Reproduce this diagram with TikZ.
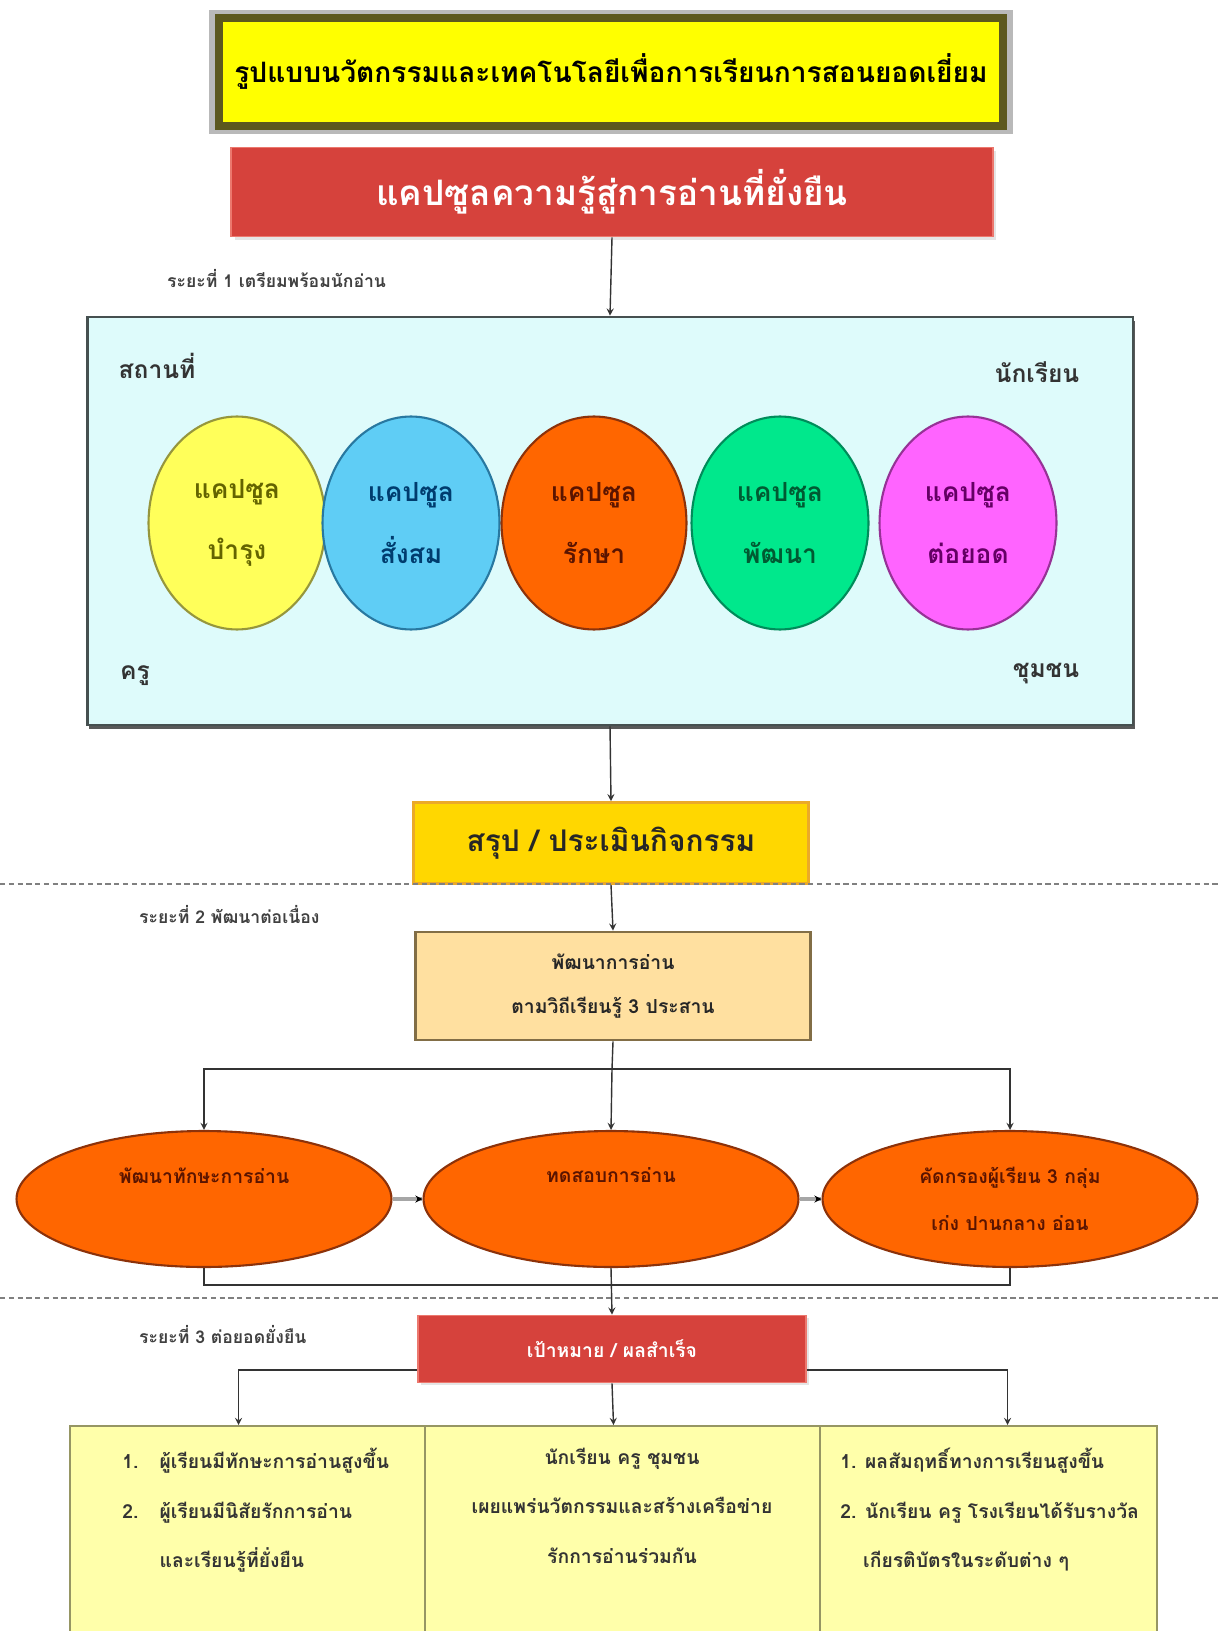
\documentclass[tikz,border=0pt]{standalone}
\usepackage{fontspec}
\setmainfont[Script=Thai]{Loma}
\usetikzlibrary{positioning,shapes.geometric,shadows}

\definecolor{headyellow}{RGB}{255,255,0}
\definecolor{headedge}{RGB}{92,88,30}
\definecolor{capred}{RGB}{214,66,60}
\definecolor{capedge}{RGB}{236,120,110}
\definecolor{framefill}{RGB}{222,251,251}
\definecolor{frameedge}{RGB}{70,80,80}
\definecolor{yel}{RGB}{255,255,90}
\definecolor{yeledge}{RGB}{150,150,60}
\definecolor{yeltext}{RGB}{100,100,0}
\definecolor{sky}{RGB}{95,205,245}
\definecolor{skyedge}{RGB}{40,120,160}
\definecolor{skytext}{RGB}{0,60,110}
\definecolor{org}{RGB}{255,102,0}
\definecolor{orgedge}{RGB}{140,50,10}
\definecolor{orgtext}{RGB}{90,20,0}
\definecolor{grn}{RGB}{0,232,140}
\definecolor{grnedge}{RGB}{0,140,90}
\definecolor{grntext}{RGB}{0,90,50}
\definecolor{pnk}{RGB}{255,100,255}
\definecolor{pnkedge}{RGB}{150,50,150}
\definecolor{pnktext}{RGB}{100,0,100}
\definecolor{gold}{RGB}{255,215,0}
\definecolor{goldedge}{RGB}{235,170,40}
\definecolor{peach}{RGB}{255,224,160}
\definecolor{peachedge}{RGB}{130,110,70}
\definecolor{paleyel}{RGB}{255,255,170}
\definecolor{paleedge}{RGB}{150,150,100}

\begin{document}
\begin{tikzpicture}[x=0.02cm,y=-0.02cm,
    capsule/.style={ellipse,draw,line width=1.2pt,minimum width=3.54cm,minimum height=4.26cm,inner sep=0pt,align=center,font=\fontsize{15}{35}\selectfont\bfseries},
    stagelabel/.style={anchor=west,font=\fontsize{10}{12}\selectfont\bfseries,text=black!75},
    corner/.style={font=\fontsize{14}{16}\selectfont\bfseries,text=black!80},
    link/.style={draw=black!80,line width=0.8pt},
    bigoval/.style={ellipse,draw=orgedge,fill=org,line width=1.2pt,minimum width=7.5cm,minimum height=2.72cm,align=center,text=orgtext,font=\fontsize{11}{27}\selectfont\bfseries},
    outbox/.style={draw=paleedge,fill=paleyel,line width=1.2pt,anchor=north west,minimum height=5cm,inner sep=0pt},
    outtext/.style={inner sep=0pt,font=\fontsize{11}{28}\selectfont\bfseries,text=black!80}]
  \clip (0,0) rectangle (1221,1631);
  \fill[white] (0,0) rectangle (1221,1631);

  % title
  \fill[gray!55] (209,10) rectangle (1013,134);
  \node[draw=headedge,fill=headyellow,line width=4.5pt,minimum width=15.7cm,minimum height=2.15cm,font=\fontsize{16}{18}\selectfont\bfseries] (head) at (611,72) {รูปแบบนวัตกรรมและเทคโนโลยีเพื่อการเรียนการสอนยอดเยี่ยม};
  \node[draw=capedge,fill=capred,line width=1pt,minimum width=15.24cm,minimum height=1.78cm,text=white,font=\fontsize{20}{22}\selectfont\bfseries,drop shadow={shadow xshift=2pt,shadow yshift=-2pt,fill=gray!40}] (cap) at (612,192) {แคปซูลความรู้สู่การอ่านที่ยั่งยืน};

  % stage 1
  \node[stagelabel] (s1) at (161,279) {ระยะที่ 1 เตรียมพร้อมนักอ่าน};
  \node[draw=frameedge,fill=framefill,line width=1.6pt,minimum width=20.92cm,minimum height=8.16cm,drop shadow={shadow xshift=1pt,shadow yshift=-2.5pt,fill=black!65,opacity=1}] (frame) at (610,521) {};
  \node[corner] (place) at (157,366) {สถานที่};
  \node[corner] (pupil) at (1037,372) {นักเรียน};
  \node[corner] (teach) at (135,676) {ครู};
  \node[corner] (comm) at (1046,674) {ชุมชน};

  \node[capsule,fill=yel,draw=yeledge,text=yeltext] (c1) at (237,523) {แคปซูล\\บำรุง};
  \node[capsule,fill=sky,draw=skyedge,text=skytext] (c2) at (411,523) {แคปซูล\\สั่งสม};
  \node[capsule,fill=org,draw=orgedge,text=orgtext,minimum width=3.7cm] (c3) at (594,523) {แคปซูล\\รักษา};
  \node[capsule,fill=grn,draw=grnedge,text=grntext] (c4) at (780,523) {แคปซูล\\พัฒนา};
  \node[capsule,fill=pnk,draw=pnkedge,text=pnktext] (c5) at (968,523) {แคปซูล\\ต่อยอด};

  \draw[link,-stealth] (cap.south) -- (frame.north);

  \node[draw=goldedge,fill=gold,line width=1.5pt,minimum width=7.9cm,minimum height=1.62cm,font=\fontsize{17}{19}\selectfont\bfseries,text=black!85] (sum) at (611,843) {สรุป / ประเมินกิจกรรม};
  \draw[link,-stealth] (frame.south) -- (sum.north);

  % stage 2
  \draw[gray,densely dashed,line width=0.8pt] (0,884) -- (1221,884);
  \node[stagelabel] (s2) at (133,915) {ระยะที่ 2 พัฒนาต่อเนื่อง};
  \node[draw=peachedge,fill=peach,line width=1.6pt,minimum width=7.9cm,minimum height=2.16cm,align=center,font=\fontsize{11}{25}\selectfont\bfseries,text=black!85] (dev) at (613,986) {พัฒนาการอ่าน\\ตามวิถีเรียนรู้ 3 ประสาน};
  \draw[link,-stealth] (sum.south) -- (dev.north);

  \node[bigoval] (o1) at (204,1199) {พัฒนาทักษะการอ่าน\\\mbox{}};
  \node[bigoval] (o2) at (611,1199) {ทดสอบการอ่าน\\\mbox{}};
  \node[bigoval] (o3) at (1010,1199) {คัดกรองผู้เรียน 3 กลุ่ม\\เก่ง ปานกลาง อ่อน};

  \coordinate (split) at (612,1069);
  \draw[link] (dev.south) -- (split);
  \draw[link,-stealth] (split) -| (o1.north);
  \draw[link,-stealth] (split) -- (o2.north);
  \draw[link,-stealth] (split) -| (o3.north);
  \draw[draw=gray!70,line width=2pt] (o1.east) -- (o2.west);
  \draw[draw=gray!70,line width=2pt] (o2.east) -- (o3.west);
  \draw[-stealth,line width=0.8pt] ([xshift=-3pt]o2.west) -- (o2.west);
  \draw[-stealth,line width=0.8pt] ([xshift=-3pt]o3.west) -- (o3.west);

  % stage 3
  \node[draw=capedge,fill=capred,line width=1pt,minimum width=7.76cm,minimum height=1.34cm,text=white,font=\fontsize{11}{13}\selectfont\bfseries,drop shadow={shadow xshift=1.5pt,shadow yshift=-1.5pt,fill=gray!40}] (goal) at (612,1349) {เป้าหมาย / ผลสำเร็จ};
  \coordinate (join) at (612,1285);
  \draw[link] (o1.south) |- (join);
  \draw[link] (o3.south) |- (join);
  \draw[link,-stealth] (o2.south) -- (goal.north);
  \draw[gray,densely dashed,line width=0.8pt] (0,1298) -- (1221,1298);
  \node[stagelabel] (s3) at (133,1335) {ระยะที่ 3 ต่อยอดยั่งยืน};

  \node[outbox,minimum width=7.1cm] (b1) at (69,1425) {};
  \node[outbox,minimum width=7.9cm] (b2) at (424,1425) {};
  \node[outbox,minimum width=6.74cm] (b3) at (819,1425) {};
  \draw[link,-stealth] ([yshift=-12pt]goal.west) -| ([xshift=-0.18cm]b1.north);
  \draw[link,-stealth] (goal.south) -- ([xshift=-0.18cm]b2.north);
  \draw[link,-stealth] ([yshift=-12pt]goal.east) -| ([xshift=0.38cm]b3.north);

  \node[outtext,anchor=north west,align=left] (t1) at (122,1448) {1.\hspace{12pt}ผู้เรียนมีทักษะการอ่านสูงขึ้น\\2.\hspace{12pt}ผู้เรียนมีนิสัยรักการอ่าน\\\hphantom{2.\hspace{12pt}}และเรียนรู้ที่ยั่งยืน};
  \node[outtext,anchor=north,align=center] (t2) at (622,1448) {นักเรียน ครู ชุมชน\\เผยแพร่นวัตกรรมและสร้างเครือข่าย\\รักการอ่านร่วมกัน};
  \node[outtext,anchor=north west,align=left] (t3) at (840,1448) {1. ผลสัมฤทธิ์ทางการเรียนสูงขึ้น\\2. นักเรียน ครู โรงเรียนได้รับรางวัล\\\hspace{13pt}เกียรติบัตรในระดับต่าง ๆ};
\end{tikzpicture}
\end{document}
